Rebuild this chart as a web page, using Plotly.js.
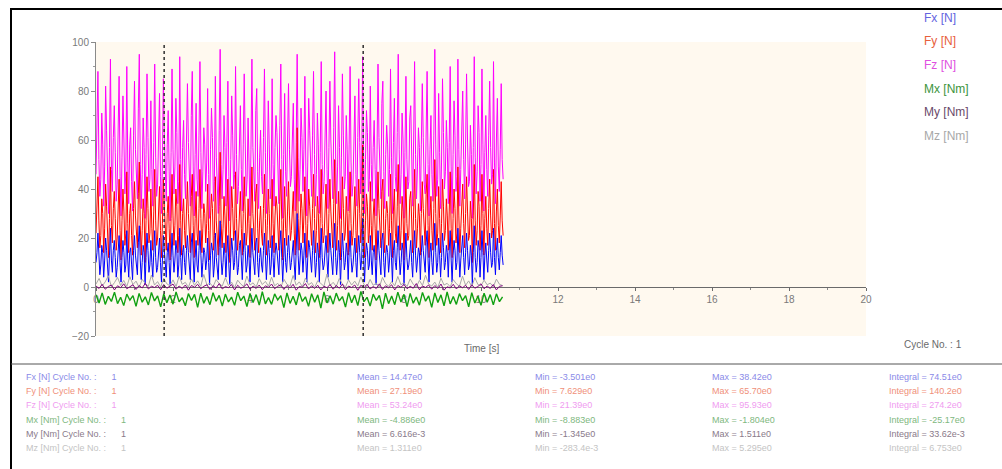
<!DOCTYPE html>
<html>
<head>
<meta charset="utf-8">
<script src="https://cdn.plot.ly/plotly-3.0.1.min.js"></script>
<style>
  html, body { margin: 0; padding: 0; background: #ffffff; }
  #chart { width: 1002px; height: 469px; }
</style>
</head>
<body>
<div id="chart"></div>
<script>
// Sampling of the recorded channels (seconds between samples)
const forceStep = 0.025;
const momentStep = 0.08;

// Force channels [N]
const fxVals = [
  10, 14, 22, 12, 5, 9, 17, 14, 4, 11, 20, 15, 7, 2, 13, 24, 11, 6, 15, 19,
  12, 4, 8, 16, 21, 10, 2, 12, 19, 14, 6, 9, 23, 11, 4, 14, 16, 9, 3, 15,
  21, 13, 7, 5, 18, 25, 11, 3, 10, 17, 14, 1, 12, 22, 15, 6, 9, 19, 10, 4,
  14, 23, 12, 6, 8, 16, 20, 10, 2, 11, 21, 15, 7, 4, 14, 18, 10, 1, 12, 22,
  13, 6, 11, 19, 15, 4, 9, 24, 12, 3, 14, 17, 10, 5, 15, 21, 14, 7, 3, 18,
  22, 11, 2, 12, 19, 9, 6, 15, 23, 13, 4, 10, 16, 14, 7, 11, 20, 10, 1, 13,
  18, 15, 4, 9, 22, 12, 7, 3, 16, 27, 11, 5, 10, 18, 13, 4, 14, 21, 9, 1,
  12, 20, 15, 7, 10, 23, 13, 5, 8, 17, 19, 11, 3, 14, 22, 15, 6, 9, 17, 12,
  2, 13, 24, 14, 7, 5, 18, 20, 10, 4, 12, 16, 9, 6, 15, 22, 13, 3, 11, 19,
  14, 5, 9, 21, 12, 4, 13, 18, 15, 7, 5, 17, 23, 12, 2, 12, 20, 10, 6, 14,
  21, 13, 7, 10, 17, 19, 9, 3, 15, 30, 13, 5, 11, 18, 15, 6, 13, 22, 11, 2,
  12, 19, 16, 8, 6, 15, 23, 13, 4, 10, 18, 14, 2, 13, 24, 12, 7, 9, 17, 21,
  11, 4, 14, 22, 15, 7, 5, 16, 26, 12, 5, 11, 19, 14, 1, 12, 22, 15, 7, 10,
  18, 14, 3, 14, 23, 12, 6, 9, 17, 20, 10, 4, 15, 21, 14, 7, 11, 28, 13, 2,
  12, 18, 15, 7, 9, 21, 11, 5, 14, 17, 11, 1, 13, 23, 15, 8, 5, 19, 22, 10,
  4, 13, 17, 14, 6, 11, 22, 12, 2, 15, 19, 10, 7, 16, 25, 13, 5, 10, 18, 15,
  1, 13, 22, 12, 7, 9, 17, 19, 10, 4, 15, 23, 13, 6, 11, 16, 14, 3, 14, 21,
  15, 8, 6, 18, 23, 11, 2, 14, 18, 10, 5, 15, 26, 14, 6, 10, 20, 13, 4, 12,
  22, 16, 7, 10, 17, 14, 4, 15, 23, 11, 2, 13, 19, 15, 7, 10, 24, 14, 4, 11,
  18, 21, 12, 5, 14, 22, 15, 7, 9, 17, 13, 1, 14, 25, 12, 6, 10, 19, 16, 4,
  12, 23, 14, 3, 13, 18, 11, 6, 15, 22, 14, 8, 10, 24, 12, 5, 15, 20, 12, 7,
  14, 21, 13, 9
];
const fyVals = [
  22, 31, 45, 27, 16, 21, 36, 30, 14, 24, 42, 33, 19, 12, 28, 49, 25, 18, 32, 39,
  28, 15, 20, 35, 44, 23, 11, 27, 40, 31, 17, 22, 47, 26, 14, 30, 34, 21, 13, 32,
  43, 29, 19, 16, 38, 51, 25, 13, 23, 36, 30, 10, 27, 45, 32, 18, 22, 40, 24, 15,
  31, 48, 27, 17, 20, 35, 41, 23, 12, 26, 44, 33, 19, 15, 30, 37, 24, 11, 28, 46,
  29, 17, 25, 40, 33, 14, 21, 50, 27, 13, 30, 36, 23, 16, 31, 43, 30, 19, 14, 37,
  46, 25, 12, 28, 39, 22, 17, 32, 48, 28, 14, 24, 34, 30, 18, 26, 42, 23, 11, 29,
  38, 32, 15, 21, 45, 27, 18, 13, 33, 55, 26, 16, 24, 37, 29, 14, 31, 44, 22, 10,
  27, 41, 32, 19, 23, 47, 28, 15, 20, 35, 39, 24, 13, 30, 45, 31, 17, 22, 36, 26,
  12, 29, 49, 30, 18, 15, 38, 42, 24, 14, 27, 33, 22, 17, 32, 46, 28, 13, 25, 40,
  30, 16, 21, 44, 26, 14, 29, 37, 33, 19, 15, 35, 48, 27, 11, 28, 41, 24, 17, 31,
  43, 29, 19, 23, 36, 39, 22, 13, 31, 65, 28, 15, 25, 38, 32, 18, 29, 45, 25, 12,
  26, 40, 33, 20, 17, 32, 46, 28, 14, 23, 37, 30, 12, 28, 48, 26, 18, 21, 36, 42,
  24, 14, 30, 44, 31, 19, 16, 34, 52, 27, 15, 25, 39, 29, 11, 27, 45, 32, 19, 22,
  37, 29, 13, 30, 47, 26, 17, 21, 35, 41, 23, 14, 32, 44, 30, 18, 24, 58, 28, 12,
  27, 38, 33, 18, 22, 43, 25, 15, 29, 36, 24, 11, 29, 47, 32, 20, 16, 39, 44, 23,
  14, 28, 35, 30, 17, 24, 46, 27, 12, 31, 40, 22, 18, 33, 50, 29, 15, 23, 37, 31,
  11, 28, 45, 26, 19, 21, 36, 39, 23, 14, 31, 48, 28, 16, 24, 34, 29, 13, 30, 43,
  32, 20, 17, 38, 46, 25, 12, 29, 37, 23, 15, 32, 52, 30, 17, 22, 41, 28, 14, 26,
  44, 33, 19, 23, 36, 29, 15, 31, 47, 24, 12, 28, 40, 32, 18, 22, 49, 29, 14, 24,
  37, 42, 26, 16, 30, 45, 31, 19, 21, 35, 28, 10, 29, 50, 27, 17, 23, 39, 33, 15,
  25, 46, 30, 13, 28, 37, 24, 17, 32, 44, 29, 20, 23, 48, 26, 15, 31, 40, 25, 18,
  29, 43, 27, 21
];
const fzVals = [
  46, 63, 88, 52, 37, 44, 71, 58, 33, 49, 82, 64, 41, 30, 57, 93, 48, 39, 61, 74,
  55, 35, 42, 67, 86, 45, 29, 53, 78, 60, 38, 47, 90, 51, 34, 58, 65, 43, 31, 62,
  84, 56, 40, 36, 73, 95, 50, 32, 46, 69, 57, 28, 54, 87, 61, 39, 44, 76, 48, 33,
  59, 91, 53, 37, 42, 66, 79, 45, 30, 51, 85, 62, 41, 35, 58, 72, 47, 27, 55, 89,
  56, 38, 49, 77, 63, 34, 43, 94, 52, 31, 57, 68, 46, 36, 60, 83, 59, 40, 33, 70,
  88, 49, 29, 54, 75, 44, 37, 62, 92, 55, 32, 47, 65, 58, 39, 51, 81, 46, 28, 56,
  73, 61, 35, 43, 86, 53, 38, 30, 64, 97, 50, 36, 48, 70, 57, 33, 59, 84, 45, 27,
  52, 78, 62, 40, 46, 90, 54, 34, 41, 67, 74, 48, 31, 58, 87, 60, 37, 44, 69, 51,
  29, 56, 93, 57, 39, 35, 72, 81, 47, 32, 53, 64, 45, 38, 61, 89, 55, 30, 49, 76,
  58, 36, 42, 85, 50, 33, 57, 70, 63, 40, 34, 66, 91, 52, 28, 54, 79, 47, 37, 60,
  83, 56, 41, 45, 68, 75, 44, 31, 59, 95, 53, 35, 48, 73, 61, 39, 56, 86, 49, 29,
  51, 77, 64, 42, 37, 62, 88, 54, 33, 46, 71, 58, 30, 55, 92, 50, 38, 43, 69, 80,
  48, 32, 57, 84, 60, 41, 36, 65, 96, 52, 34, 49, 74, 57, 28, 53, 87, 62, 40, 45,
  70, 56, 31, 58, 90, 51, 37, 42, 67, 78, 46, 33, 61, 85, 59, 38, 47, 94, 55, 30,
  52, 72, 63, 39, 44, 82, 50, 35, 57, 68, 48, 29, 56, 91, 61, 41, 36, 75, 84, 47,
  32, 54, 66, 58, 37, 48, 89, 53, 30, 59, 77, 45, 39, 63, 95, 56, 34, 46, 71, 60,
  28, 55, 86, 52, 40, 43, 69, 74, 47, 33, 60, 92, 54, 36, 49, 65, 57, 31, 58, 83,
  61, 42, 38, 73, 88, 50, 29, 56, 70, 46, 35, 62, 97, 58, 37, 44, 79, 55, 32, 51,
  85, 63, 40, 47, 68, 57, 34, 59, 90, 49, 30, 54, 76, 62, 39, 45, 93, 56, 33, 48,
  71, 80, 52, 36, 58, 87, 60, 41, 43, 66, 54, 28, 57, 94, 53, 38, 47, 74, 63, 35,
  50, 89, 58, 31, 55, 70, 48, 37, 62, 84, 57, 42, 46, 92, 51, 34, 60, 77, 49, 39,
  56, 83, 52, 44
];

// Moment channels [Nm]
const mxVals = [
  -3.2, -6.5, -2.4, -7.1, -3.8, -5.9, -2.1, -6.8, -4.2, -7.6, -2.9, -5.4, -3.5, -7.9, -2.6, -6.2, -4.0, -7.3, -2.2, -5.7,
  -3.6, -8.1, -2.8, -6.4, -3.3, -7.0, -2.0, -6.0, -4.4, -7.7, -2.7, -5.5, -3.0, -8.3, -2.5, -6.6, -3.9, -7.2, -2.3, -5.8,
  -3.4, -7.8, -2.9, -6.1, -4.1, -7.5, -2.1, -5.6, -3.7, -8.0, -2.6, -6.3, -3.1, -7.4, -1.9, -6.9, -4.3, -7.1, -2.8, -5.3,
  -3.5, -8.4, -2.4, -6.7, -3.8, -7.3, -2.2, -5.9, -4.0, -7.9, -2.7, -6.2, -3.2, -8.6, -2.0, -6.5, -3.6, -7.0, -2.5, -5.7,
  -3.9, -8.2, -2.3, -6.4, -3.3, -7.6, -1.8, -6.0, -4.2, -7.8, -2.9, -5.5, -3.4, -8.9, -2.5, -6.8, -3.7, -7.2, -2.1, -6.1,
  -3.0, -8.0, -2.6, -6.6, -4.1, -7.4, -2.2, -5.8, -3.6, -8.3, -2.4, -6.3, -3.2, -7.7, -2.0, -6.9, -3.9, -7.1, -2.7, -5.6,
  -3.5, -8.1, -2.3, -6.5, -3.8, -7.5, -2.5, -6.2, -3.1, -7.3, -2.8, -6.0, -4.0
];
const myVals = [
  0.4, -0.6, 1.1, -0.9, 0.2, 0.8, -1.2, 0.5, -0.3, 1.3, -0.7, 0.1, 0.9, -1.0, 0.6, -0.4, 1.5, -0.8, 0.3, -0.2,
  0.7, -1.1, 1.0, -0.5, 0.2, 1.2, -0.9, 0.4, -0.6, 0.8, -1.3, 0.6, -0.1, 1.1, -0.7, 0.3, 0.9, -1.0, 0.5, -0.4,
  1.4, -0.8, 0.2, -0.3, 1.0, -1.2, 0.7, -0.5, 0.1, 1.3, -0.9, 0.4, -0.6, 0.8, -1.1, 0.5, -0.2, 1.2, -0.7, 0.3,
  0.9, -1.0, 0.6, -0.4, 1.1, -1.3, 0.2, -0.1, 1.4, -0.8, 0.5, -0.6, 0.7, -1.2, 0.3, -0.3, 1.0, -0.9, 0.6, -0.5,
  1.2, -1.1, 0.4, -0.2, 0.8, -1.35, 0.7, -0.4, 1.1, -0.8, 0.2, -0.6, 1.3, -1.0, 0.5, -0.3, 0.9, -1.2, 0.6, -0.1,
  1.0, -0.7, 0.3, -0.5, 1.4, -1.1, 0.4, -0.2, 0.8, -0.9, 0.6, -0.6, 1.2, -1.3, 0.1, -0.4, 1.1, -0.8, 0.5, -0.3,
  0.7, -1.0, 0.9, -0.5, 0.2, 1.3, -0.7, 0.4, -0.6, 1.0, -1.2, 0.3, 0.5
];
const mzVals = [
  1.2, 3.5, 0.4, 2.1, 4.6, 0.1, 1.8, 3.9, 0.6, 2.7, 0.2, 4.2, 1.0, 2.4, -0.2, 3.1, 1.5, 0.3, 4.9, 0.8,
  2.2, 0.0, 3.6, 1.3, 0.5, 2.9, 0.2, 4.4, 1.1, 1.9, -0.1, 3.3, 0.7, 2.5, 0.3, 5.1, 0.9, 1.6, 0.1, 3.0,
  1.4, 0.4, 3.8, 0.6, 2.0, -0.3, 2.8, 1.2, 0.2, 4.5, 0.8, 1.7, 0.0, 3.4, 1.0, 2.3, 0.3, 4.0, 0.5, 1.5,
  -0.1, 3.2, 1.1, 0.4, 4.7, 0.7, 2.1, 0.1, 3.7, 0.9, 1.8, -0.2, 2.6, 1.3, 0.3, 5.3, 0.6, 1.9, 0.2, 3.5,
  1.2, 0.0, 2.9, 0.8, 2.4, 0.4, 4.1, 1.0, 0.1, 3.1, 0.7, 1.6, -0.1, 3.9, 1.4, 0.3, 2.2, 0.5, 4.3, 0.9,
  1.7, 0.2, 3.3, 1.1, 0.0, 2.7, 0.6, 4.8, 1.2, 0.4, 2.0, -0.2, 3.6, 0.8, 1.5, 0.1, 3.0, 1.3, 0.3, 4.4,
  0.7, 2.5, 0.2, 3.8, 1.0, 0.5, 2.8, 0.9, 1.6, 0.1, 3.2, 1.1, 0.6
];

// Cycle cursor positions [s]
const cursorTimes = [1.77, 6.94];

// Axis ticks
const xTickVals = [0, 2, 4, 6, 8, 10, 12, 14, 16, 18, 20];
const yTickVals = [-20, 0, 20, 40, 60, 80, 100];

// Channel names and statistics of cycle 1
const channelNames = ['Fx [N]', 'Fy [N]', 'Fz [N]', 'Mx [Nm]', 'My [Nm]', 'Mz [Nm]'];
const statMean = ['14.47e0', '27.19e0', '53.24e0', '-4.886e0', '6.616e-3', '1.311e0'];
const statMin = ['-3.501e0', '7.629e0', '21.39e0', '-8.883e0', '-1.345e0', '-283.4e-3'];
const statMax = ['38.42e0', '65.70e0', '95.93e0', '-1.804e0', '1.511e0', '5.295e0'];
const statIntegral = ['74.51e0', '140.2e0', '274.2e0', '-25.17e0', '33.62e-3', '6.753e0'];
const cycleNo = 1;

// Channel colours: trace, legend text, statistics text
const lineColors = ['#0000ff', '#ff0000', '#ff00ff', '#10a010', '#800080', '#a8a8a8'];
const lineWidths = [1, 1, 1, 1.4, 1, 1];
const labelColors = ['#6464e0', '#e8603c', '#e050e0', '#3c943c', '#6a4a6a', '#a8a8a8'];
const statColors = ['#8a8ae8', '#f0907a', '#f09cf0', '#80b880', '#8a7a8a', '#c4c4c4'];

// Plot area in pixels
const W = 1002, H = 469;
const L = 96, R = 866, T = 42, B = 336;
const px = x => (x - L) / (R - L);
const py = y => (B - y) / (B - T);

const FONT = 'Liberation Sans, Arial, sans-serif';

const timeAxis = (n, step) => Array.from({length: n}, (_, i) => +(i * step).toFixed(3));
const series = [fxVals, fyVals, fzVals, mxVals, myVals, mzVals];
const steps = [forceStep, forceStep, forceStep, momentStep, momentStep, momentStep];

// Draw order: Fz at the back, then Fy, Fx, Mz, My, Mx
const drawOrder = [2, 1, 0, 5, 4, 3];
const traces = drawOrder.map(k => ({
  type: 'scatter',
  mode: 'lines',
  name: channelNames[k],
  x: timeAxis(series[k].length, steps[k]),
  y: series[k],
  line: {color: lineColors[k], width: lineWidths[k]},
  showlegend: false,
  hoverinfo: 'skip'
}));

const annotations = [];
// Channel names on the right
channelNames.forEach((name, k) => {
  annotations.push({
    xref: 'paper', yref: 'paper', x: px(922), y: py(18 + k * 23.5),
    xanchor: 'left', yanchor: 'middle', showarrow: false,
    text: name, font: {family: FONT, size: 12, color: labelColors[k]}
  });
});
// Axis caption and cycle number
annotations.push({
  xref: 'paper', yref: 'paper', x: px(481), y: py(348),
  xanchor: 'center', yanchor: 'middle', showarrow: false,
  text: 'Time [s]', font: {family: FONT, size: 10, color: '#6a6a6a'}
});
annotations.push({
  xref: 'paper', yref: 'paper', x: px(902), y: py(344),
  xanchor: 'left', yanchor: 'middle', showarrow: false,
  text: 'Cycle No. : ' + cycleNo, font: {family: FONT, size: 10, color: '#6a6a6a'}
});
// Statistics table
const colX = [24, 355, 533, 710, 887];
channelNames.forEach((name, k) => {
  const y = py(377 + k * 14.2);
  const cells = [
    name + ' Cycle No. :\u00a0\u00a0\u00a0\u00a0\u00a0\u00a0' + cycleNo,
    'Mean = ' + statMean[k],
    'Min = ' + statMin[k],
    'Max = ' + statMax[k],
    'Integral = ' + statIntegral[k]
  ];
  cells.forEach((txt, c) => {
    annotations.push({
      xref: 'paper', yref: 'paper', x: px(colX[c]), y: y,
      xanchor: 'left', yanchor: 'middle', showarrow: false,
      text: txt, font: {family: FONT, size: 9, color: statColors[k]}
    });
  });
});

const shapes = [];
// Cycle cursors
cursorTimes.forEach(t => {
  shapes.push({
    type: 'line', xref: 'x', yref: 'y', x0: t, x1: t, y0: -20, y1: 100,
    line: {color: '#303030', width: 1.5, dash: 'dot'}, layer: 'above'
  });
});
// Frame and separator
shapes.push({type: 'line', xref: 'paper', yref: 'paper', x0: px(10), x1: px(1002), y0: py(9), y1: py(9),
  line: {color: '#000000', width: 2}});
shapes.push({type: 'line', xref: 'paper', yref: 'paper', x0: px(11), x1: px(11), y0: py(8), y1: py(469),
  line: {color: '#000000', width: 2}});
shapes.push({type: 'line', xref: 'paper', yref: 'paper', x0: px(11), x1: px(1002), y0: py(364), y1: py(364),
  line: {color: '#555555', width: 1}});

const layout = {
  width: W, height: H,
  margin: {l: L, r: W - R, t: T, b: H - B, pad: 0},
  paper_bgcolor: '#ffffff',
  plot_bgcolor: '#fff9ef',
  showlegend: false,
  font: {family: FONT, size: 10, color: '#7a7a7a'},
  xaxis: {
    range: [0, 20],
    anchor: 'free',
    position: 20 / 120,
    layer: 'below traces',
    showline: true, linecolor: '#6a6a6a', linewidth: 1,
    ticks: 'outside', ticklen: 3, tickcolor: '#6a6a6a',
    tickmode: 'array', tickvals: xTickVals,
    minor: {dtick: 1, ticks: 'outside', ticklen: 2, tickcolor: '#8a8a8a'},
    showgrid: false, zeroline: false,
    tickfont: {family: FONT, size: 10, color: '#7a7a7a'}
  },
  yaxis: {
    range: [-20, 100],
    showline: true, linecolor: '#8a8a8a', linewidth: 1,
    ticks: 'outside', ticklen: 4, tickcolor: '#8a8a8a',
    tickmode: 'array', tickvals: yTickVals,
    minor: {dtick: 10, ticks: 'outside', ticklen: 2, tickcolor: '#9a9a9a'},
    showgrid: false, zeroline: false,
    tickfont: {family: FONT, size: 10, color: '#7a7a7a'}
  },
  annotations: annotations,
  shapes: shapes
};

Plotly.newPlot('chart', traces, layout, {displayModeBar: false, staticPlot: true});
</script>
</body>
</html>
